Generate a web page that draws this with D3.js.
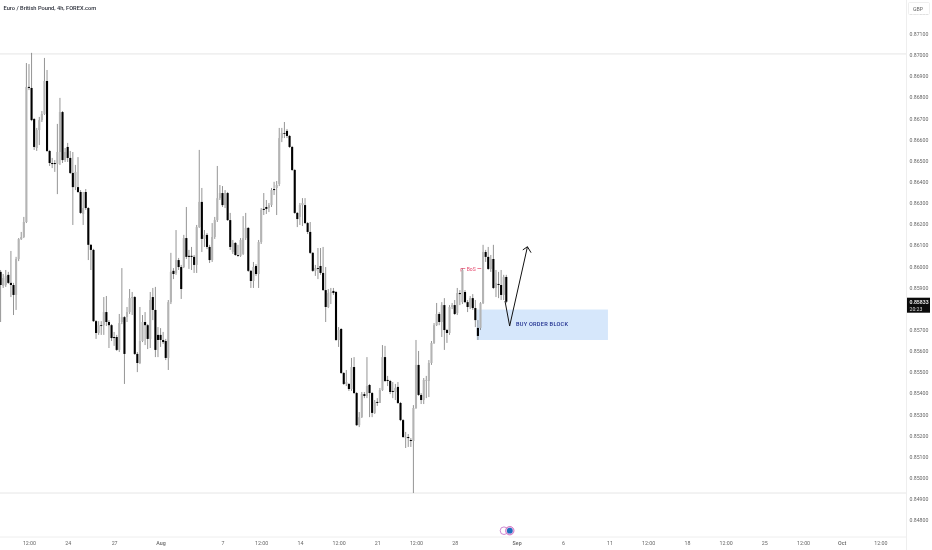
<!DOCTYPE html>
<html>
<head>
<meta charset="utf-8">
<script src="https://cdn.jsdelivr.net/npm/d3@7"></script>
<style>
  html, body { margin: 0; padding: 0; background: #fff; }
  svg { display: block; filter: blur(0.3px); }
  text { font-family: Roboto, "Open Sans", sans-serif; }
</style>
</head>
<body>
<div id="chart"></div>
<script>
// EUR/GBP 4h candles, prices x 100000
var opens = [85974,85908,85912,85960,85922,85912,85865,86035,86129,86139,86210,86849,86844,86697,86560,86645,86692,86721,86877,86546,
  86489,86489,86484,86541,86730,86503,86565,86513,86442,86375,86375,86352,86248,86352,86276,86102,86078,85741,85685,85722,
  85722,85784,85737,85722,85666,85666,85605,85737,85760,85760,85784,85850,85855,85586,85543,85647,85737,85722,85657,85855,
  85794,85676,85676,85652,85647,85567,85831,85979,85969,86030,85997,85997,86134,86050,86050,86045,86007,86186,86305,86130,
  86149,86092,86030,86139,86219,86323,86347,86290,86347,86219,86068,86111,86054,86050,86059,86134,86182,85979,85931,86002,
  85964,86115,86272,86281,86276,86290,86366,86371,86390,86607,86631,86641,86617,86565,86456,86253,86234,86290,86290,86205,
  86163,86064,85979,85992,86002,85969,85888,85808,85874,85884,85879,85652,85704,85496,85444,85444,85420,85524,85401,85249,
  85287,85396,85387,85439,85401,85307,85359,85354,85415,85571,85463,85458,85411,85406,85430,85354,85273,85188,85193,85179,
  85174,85330,85534,85392,85368,85458,85458,85543,85638,85722,85775,85737,85817,85699,85685,85808,85817,85779,85874,85831,
  85879,85831,85808,85850,85803,85709,85709,85826,86068,86045,85988,86035,85898,85917,85912,85865,85950];
var highs = [85983,85964,85983,85974,86073,85922,86045,86134,86163,86234,86962,86957,87010,86702,86655,86707,86735,86986,86929,86551,
  86513,86503,86674,86797,86735,86560,86584,86546,86541,86480,86517,86361,86352,86366,86281,86106,86083,85746,85741,85741,
  85855,85860,85746,85727,85690,85676,85775,85992,85765,85808,85893,85879,85860,85595,85808,85770,85784,85727,85879,85898,
  85903,85713,85708,85690,85657,85841,86064,85992,86172,86040,86007,86149,86281,86078,86092,86054,86196,86551,86371,86172,
  86158,86102,86205,86234,86475,86385,86380,86361,86352,86253,86125,86115,86102,86134,86238,86253,86186,85983,86021,86011,
  86125,86276,86347,86314,86300,86371,86400,86404,86655,86655,86683,86650,86622,86570,86461,86257,86300,86323,86323,86210,
  86210,86068,86007,86087,86087,86092,85997,85893,85898,85898,85884,85713,85708,85500,85510,85448,85567,85571,85406,85311,
  85406,85406,85571,85444,85406,85368,85377,85425,85628,85624,85482,85463,85453,85444,85453,85359,85278,85217,85207,85188,
  85344,85652,85600,85401,85472,85482,85557,85647,85732,85827,85784,85831,85850,85704,85817,85827,85841,85898,85888,85992,
  85888,85841,85860,85869,85841,85746,85831,86102,86078,86092,86054,86102,85983,85974,85983,85960,85960];
var lows = [85737,85898,85903,85917,85855,85770,85794,86025,86125,86134,86205,86834,86687,86551,86546,86574,86683,86716,86541,86475,
  86465,86447,86342,86480,86489,86494,86494,86437,86196,86361,86347,86248,86196,86267,86030,85983,85737,85657,85676,85676,
  85676,85718,85614,85647,85624,85600,85595,85727,85444,85737,85775,85770,85581,85500,85538,85642,85628,85609,85614,85746,
  85571,85571,85619,85633,85557,85510,85822,85940,85960,85983,85846,85992,86035,85988,85983,85969,85969,86182,86068,86092,
  86082,86016,86021,86130,86210,86314,86281,86276,86215,86078,86059,86050,86045,86045,86054,86125,85974,85898,85898,85955,
  85898,86106,86243,86248,86257,86281,86338,86243,86380,86588,86607,86607,86560,86451,86248,86186,86196,86191,86200,86153,
  86059,85974,85955,85940,85960,85884,85737,85803,85822,85865,85647,85619,85491,85439,85434,85411,85411,85396,85245,85240,
  85283,85377,85377,85287,85287,85302,85340,85354,85411,85453,85434,85396,85377,85368,85349,85268,85188,85141,85146,85146,
  84928,85326,85387,85349,85349,85377,85382,85534,85633,85718,85722,85666,85605,85638,85676,85798,85770,85770,85817,85822,
  85826,85784,85798,85794,85713,85652,85699,85822,86021,85983,85974,85893,85855,85850,85841,85841,85826];
var closes = [85912,85945,85955,85922,85912,85865,86035,86129,86139,86210,86849,86844,86692,86565,86645,86692,86721,86877,86546,86489,
  86484,86484,86541,86730,86503,86541,86513,86442,86375,86447,86352,86253,86276,86276,86102,86078,85741,85685,85722,85718,
  85784,85737,85722,85661,85661,85605,85732,85760,85586,85784,85850,85855,85586,85543,85647,85737,85722,85657,85841,85794,
  85605,85652,85652,85642,85567,85831,85974,85964,86030,85997,85893,86134,86045,86045,86045,86007,86186,86305,86130,86149,
  86092,86030,86139,86219,86323,86347,86290,86347,86219,86092,86111,86054,86050,86125,86134,86182,85979,85931,85997,85964,
  86115,86267,86267,86272,86290,86361,86361,86385,86607,86631,86627,86617,86565,86456,86253,86224,86290,86300,86205,86163,
  86064,85979,85992,85988,85969,85888,85808,85874,85879,85874,85652,85699,85496,85444,85453,85420,85524,85401,85249,85287,
  85396,85387,85434,85401,85307,85359,85354,85415,85571,85458,85458,85406,85406,85425,85354,85273,85193,85193,85188,85174,
  85330,85534,85392,85368,85463,85463,85543,85638,85722,85775,85737,85817,85699,85685,85808,85817,85775,85874,85869,85983,
  85831,85808,85850,85803,85746,85671,85826,86068,86045,85988,86035,85898,85922,85912,85865,85950,85833];

// x axis labels, placed by candle number (the axis runs on into the empty future)
var timeTickIndex = [11,26,44,62,86,101,116,131,146,161,176,200,218,236,251,266,281,296,311,326,341];
var timeTickLabels = ["12:00","24","27","Aug","7","12:00","14","12:00","21","12:00","28","Sep","6","11","12:00","18","12:00","25","12:00","Oct","12:00"];
var monthLabels = ["Aug","Sep","Oct"];

var priceTicks = [0.848,0.849,0.850,0.851,0.852,0.853,0.854,0.855,0.856,0.857,0.859,0.860,0.861,0.862,0.863,0.864,0.865,0.866,0.867,0.868,0.869,0.870,0.871,0.872];
var lastPrice = 0.85833;
var countdown = "20:23";

// drawings on the chart, [candle number, price]
var topLevel = 0.87005, bottomLevel = 0.84928;
var orderBlockX = [184.5, 235.4], orderBlockY = [0.85796, 0.85652];
var arrowPath = [[195.5,0.85836],[197.3,0.85718],[204.2,0.86093]];
var arrowHead = [[202.4,0.86078],[204.2,0.86093],[205.6,0.86065]];
var bosLeft = [[178.4,0.85976],[178.4,0.85990],[180.1,0.85990]];
var bosRight = [[184.8,0.85990],[186.3,0.85990]];

var width = 932;
var height = 550;
var axisX = 906.5;
var axisY = 537;

var x = d3.scaleLinear().domain([0, 341]).range([0.6, 880.4]);
var y = d3.scaleLinear().domain([0.848, 0.872]).range([520.1, 12.7]);
var line = d3.line().x(function(d){ return x(d[0]); }).y(function(d){ return y(d[1]); });

var svg = d3.select("#chart").append("svg").attr("width", width).attr("height", height);

// separators
svg.append("line").attr("x1", 0).attr("x2", axisX).attr("y1", y(topLevel)).attr("y2", y(topLevel)).attr("stroke", "#e6e6e6").attr("stroke-width", 1);
svg.append("line").attr("x1", 0).attr("x2", axisX).attr("y1", y(bottomLevel)).attr("y2", y(bottomLevel)).attr("stroke", "#e6e6e6").attr("stroke-width", 1);
svg.append("line").attr("x1", 0).attr("x2", axisX).attr("y1", axisY).attr("y2", axisY).attr("stroke", "#eeeeee");
svg.append("line").attr("x1", axisX).attr("x2", axisX).attr("y1", 0).attr("y2", height).attr("stroke", "#eeeeee");

// order block sits under the candles
svg.append("rect")
  .attr("x", x(orderBlockX[0])).attr("width", x(orderBlockX[1]) - x(orderBlockX[0]))
  .attr("y", y(orderBlockY[0])).attr("height", y(orderBlockY[1]) - y(orderBlockY[0]))
  .attr("fill", "#d6e7fb");

// candles
var candles = svg.append("g").selectAll("g").data(opens).enter().append("g");
candles.append("line")
  .attr("x1", function(d, i){ return x(i); })
  .attr("x2", function(d, i){ return x(i); })
  .attr("y1", function(d, i){ return y(highs[i] / 100000); })
  .attr("y2", function(d, i){ return y(lows[i] / 100000); })
  .attr("stroke", "#7a7a7a").attr("stroke-width", 0.8);
candles.append("rect")
  .attr("x", function(d, i){ return x(i) - 1.05; })
  .attr("width", 2.1)
  .attr("y", function(d, i){ return y(Math.max(opens[i], closes[i]) / 100000); })
  .attr("height", function(d, i){ return Math.max(0.8, Math.abs(y(opens[i] / 100000) - y(closes[i] / 100000))); })
  .attr("fill", function(d, i){ return closes[i] >= opens[i] ? "#b4b4b4" : "#000"; });

// BoS marker
svg.append("path").attr("d", line(bosLeft)).attr("fill", "none").attr("stroke", "#e5476c").attr("stroke-width", 0.7);
svg.append("path").attr("d", line(bosRight)).attr("fill", "none").attr("stroke", "#e5476c").attr("stroke-width", 0.7);
svg.append("text").attr("x", x(182.4)).attr("y", y(0.8599) + 2).attr("text-anchor", "middle")
  .attr("font-size", 5).attr("fill", "#e5476c").text("BoS");

// arrow
svg.append("path").attr("d", line(arrowPath)).attr("fill", "none").attr("stroke", "#111").attr("stroke-width", 1);
svg.append("path").attr("d", line(arrowHead)).attr("fill", "none").attr("stroke", "#111").attr("stroke-width", 1);

svg.append("text").attr("x", 516).attr("y", 325.5).attr("font-size", 5.6).attr("font-weight", 500)
  .attr("letter-spacing", 0.25).attr("fill", "#1f2f8f").text("BUY ORDER BLOCK");

// title
svg.append("text").attr("x", 3.5).attr("y", 10).attr("font-size", 5.7).attr("font-weight", 500)
  .attr("fill", "#2a2e39").text("Euro / British Pound, 4h, FOREX.com");

// time axis
var timeAxis = d3.axisBottom(x).tickValues(timeTickIndex).tickSize(0).tickPadding(4)
  .tickFormat(function(d, i){ return timeTickLabels[i]; });
var gx = svg.append("g").attr("transform", "translate(0," + axisY + ")").call(timeAxis);
gx.select(".domain").remove();
gx.selectAll("text").attr("font-size", 5.3).attr("font-family", "Roboto, sans-serif").attr("fill", "#666")
  .attr("font-weight", function(d, i){ return monthLabels.indexOf(timeTickLabels[i]) >= 0 ? 500 : 400; });

// price axis
var priceAxis = d3.axisRight(y).tickValues(priceTicks).tickSize(0).tickPadding(3)
  .tickFormat(d3.format(".5f"));
var gy = svg.append("g").attr("transform", "translate(" + axisX + ",0)").call(priceAxis);
gy.select(".domain").remove();
gy.selectAll("text").attr("font-size", 5.2).attr("font-family", "Roboto, sans-serif").attr("fill", "#666");

// currency box, hides the top tick partly
svg.append("rect").attr("x", 908.5).attr("y", 2.5).attr("width", 21).attr("height", 12)
  .attr("fill", "#fff").attr("stroke", "#e8e8e8").attr("stroke-width", 0.7).attr("rx", 1);
svg.append("text").attr("x", 918).attr("y", 10.5).attr("text-anchor", "middle")
  .attr("font-size", 5.2).attr("fill", "#666").text("GBP");

// last price tag
svg.append("rect").attr("x", 907).attr("width", 23).attr("y", y(lastPrice) - 4).attr("height", 15).attr("fill", "#0b0b0b");
svg.append("text").attr("x", 909.5).attr("y", y(lastPrice) + 2.5).attr("font-size", 5.2).attr("font-weight", 500)
  .attr("fill", "#fff").text(d3.format(".5f")(lastPrice));
svg.append("text").attr("x", 909.5).attr("y", y(lastPrice) + 9).attr("font-size", 5.2)
  .attr("fill", "#ddd").text(countdown);

// event badges over the time axis
svg.append("circle").attr("cx", 504).attr("cy", 530.7).attr("r", 3.8).attr("fill", "#fff").attr("stroke", "#c46cc4").attr("stroke-width", 0.8);
svg.append("circle").attr("cx", 509.8).attr("cy", 530.7).attr("r", 4.2).attr("fill", "#f0c8ec").attr("stroke", "#c85cb8").attr("stroke-width", 0.8);
svg.append("circle").attr("cx", 509.8).attr("cy", 530.7).attr("r", 2.9).attr("fill", "#1f6fbe");
</script>
</body>
</html>
